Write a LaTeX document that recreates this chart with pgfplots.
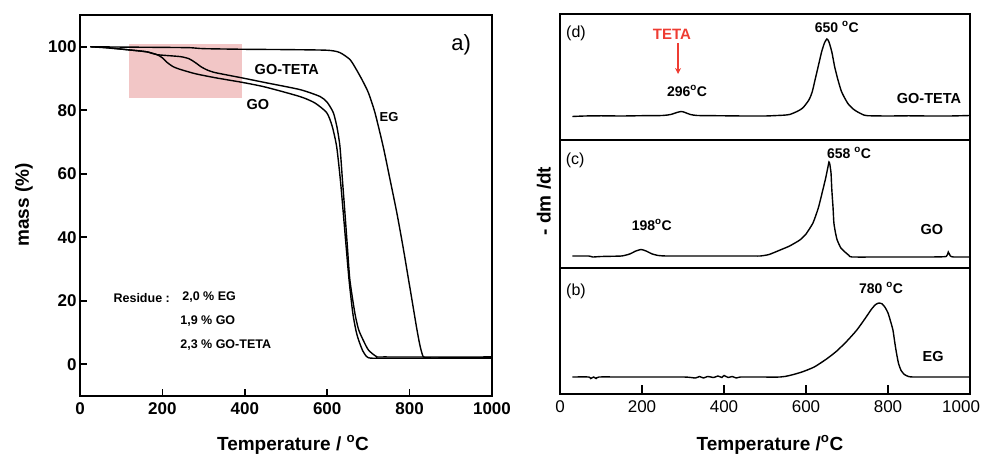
\documentclass[border=0pt]{standalone}
\usepackage{fontspec}
\setmainfont{Liberation Sans}
\usepackage{pgfplots}
\pgfplotsset{compat=1.18}
\usetikzlibrary{arrows.meta}
\definecolor{pinkbox}{RGB}{242,198,198}
\definecolor{tetared}{RGB}{238,60,50}
\newcommand{\fs}[1]{\fontsize{#1bp}{#1bp}\selectfont}
\newcommand{\dg}{\textsuperscript{o}}
\begin{document}
\begin{tikzpicture}
\path[use as bounding box] (0,0) rectangle (985bp,457bp);
% ---------------- left panel: TGA ----------------
\begin{axis}[at={(80bp,61bp)}, anchor=south west, scale only axis,
  width=412bp, height=381bp,
  xmin=0, xmax=1000, ymin=-10, ymax=110,
  xtick={0,200,...,1000}, ytick={0,20,...,100},
  tick pos=left, tick align=inside, major tick length=7bp,
  axis line style={line width=1.8bp},
  every tick/.style={line width=1.6bp, black},
  ticklabel style={font=\fs{17}\bfseries},
  /pgf/number format/assume math mode=true,
  /pgf/number format/1000 sep={},
  xticklabel style={yshift=-3bp},
  clip=false]
\addplot[fill=pinkbox, draw=none] coordinates {(120,84) (393,84) (393,101) (120,101)} -- cycle;
% EG
\addplot[black, line width=1.4bp, smooth, tension=0.4] coordinates {
(25,100)(100,99.9)(200,99.8)(267,99.7)(300,99.4)(400,99.2)(500,99.1)(600,98.9)
(630,98.2)(655,96)(670,93)(685,89.5)(700,85.5)(716,79.2)(736,68.5)(752,58.5)
(769,47.7)(784,37)(797,27)(808,18.5)(817,11.5)(825,6)(833,2.4)(845,2.0)(900,2.0)(1000,2.0)};
% GO
\addplot[black, line width=1.4bp, smooth, tension=0.4] coordinates {
(25,100)(60,99.7)(120,99)(162,98.4)(187,97.5)(200,96.5)(212,95)(225,93.8)(240,93)
(280,91.5)(330,90.2)(393,88.8)(450,87.3)(534,84.3)(570,82.3)(599,79.2)(612,75)
(623,68.5)(632,58)(639,47.7)(646,37)(653,26.6)(662,16.2)(670,10.5)(676,7.7)
(686,4.3)(696,2.4)(710,1.9)(800,1.9)(1000,1.9)};
% GO-TETA
\addplot[black, line width=1.4bp, smooth, tension=0.4] coordinates {
(25,100)(60,99.8)(120,99)(162,98.4)(187,97.5)(243,96.9)(265,96.2)(280,95)
(295,93.6)(310,92.6)(330,91.8)(393,90.2)(450,88.7)(534,86.5)(583,84.3)(600,82.5)
(615,79.2)(624,74.5)(631,68.5)(637,58)(643,47.7)(649,37)(655,26.6)(667,16.2)
(676,11)(687,7.7)(700,4.5)(720,2.4)(740,2.3)(1000,2.3)};
\node[font=\fs{22}] at (axis cs:925,100.6) {a)};
\node[font=\fs{14.5}\bfseries] at (axis cs:502,92.8) {GO-TETA};
\node[font=\fs{14.5}\bfseries] at (axis cs:432,81.7) {GO};
\node[font=\fs{13}\bfseries] at (axis cs:750,78) {EG};
\node[font=\fs{12.5}\bfseries, anchor=west] at (axis cs:73,21) {Residue :};
\node[font=\fs{12.5}\bfseries, anchor=west] at (axis cs:240,21) {2,0 \% EG};
\node[font=\fs{12.5}\bfseries, anchor=west] at (axis cs:235,13.7) {1,9 \% GO};
\node[font=\fs{12.5}\bfseries, anchor=west] at (axis cs:235,6.1) {2,3 \% GO-TETA};
\end{axis}
\node[rotate=90, font=\fs{19}\bfseries] at (24bp,252bp) {mass (\%)};
\node[font=\fs{19}\bfseries, anchor=base] at (293bp,7bp) {Temperature / \dg C};
% ---------------- right panels: DTG ----------------
\pgfplotsset{dtg/.style={anchor=south west, scale only axis, width=410bp,
  xmin=0, xmax=1000, ytick=\empty,
  axis line style={line width=1.8bp}, clip=false}}
% (d) GO-TETA
\begin{axis}[dtg, at={(560bp,317bp)}, height=126bp, ymin=0, ymax=126, xtick=\empty]
\addplot[black, line width=1.4bp, smooth, tension=0.4] coordinates {
(30,23.5)(60,24)(100,24.2)(150,24)(200,24.3)(250,24.5)(270,25.5)(285,27.5)(296,28.5)
(305,27.5)(318,25.5)(335,24.5)(380,24.3)(450,24)(500,24)(530,24.5)(545,24.8)
(560,25.5)(578,28.5)(592,32)(607,40)(615,48)(622,60)(630,74)(638,88)(645,97)
(651,101)(656,98)(663,88)(670,73)(678,60)(686,49)(693,43)(703,36)(715,31)
(724,28.5)(738,25.5)(750,24.3)(800,24)(850,24.2)(900,24)(950,24)(1000,24.5)};
\addplot[tetared, line width=1.2bp, -{Stealth[length=6bp,width=6bp]}] coordinates {(288,97)(288,66)};
\node[font=\fs{16}] at (axis cs:39,107) {(d)};
\node[font=\fs{15}\bfseries, text=tetared] at (axis cs:273,106) {TETA};
\node[font=\fs{14}\bfseries] at (axis cs:310,49) {296\dg C};
\node[font=\fs{14}\bfseries] at (axis cs:675,113) {650 \dg C};
\node[font=\fs{14.5}\bfseries] at (axis cs:900,41) {GO-TETA};
\end{axis}
% (c) GO
\begin{axis}[dtg, at={(560bp,189bp)}, height=128bp, ymin=0, ymax=128, xtick=\empty]
\addplot[black, line width=1.4bp, smooth, tension=0.3] coordinates {
(30,12)(70,12)(80,11)(100,11.5)(150,12)(170,14)(185,17)(198,18.5)(210,17)(225,14)
(240,12.5)(260,12)(350,12)(450,12)(488,12)(510,13.5)(537,18)(560,22)(585,28)
(600,34)(617,45)(630,60)(641,78)(648,90)(653,100)(656,106)(658,104)(661,95)
(663,78)(666,60)(668,45)(672,35)(676,28)(685,20)(695,16)(705,12.5)(712,11)
(800,11)(900,11)(942,11.5)(947,16)(952,12)(960,11)(1000,11)};
\node[font=\fs{16}] at (axis cs:37,108) {(c)};
\node[font=\fs{14}\bfseries] at (axis cs:705,115) {658 \dg C};
\node[font=\fs{14}\bfseries] at (axis cs:224,43) {198\dg C};
\node[font=\fs{14.5}\bfseries] at (axis cs:907,38) {GO};
\end{axis}
% (b) EG
\begin{axis}[dtg, at={(560bp,63bp)}, height=126bp, ymin=0, ymax=126,
  xtick={0,200,...,1000},
  xticklabels={0,200,400,600,800,{\makebox[20bp][r]{1000}}},
  tick pos=left, tick align=inside, major tick length=9bp,
  every tick/.style={line width=1.6bp, black},
  ticklabel style={font=\fs{17}},
  xticklabel style={yshift=-3bp}]
\addplot[black, line width=1.4bp, smooth, tension=0.4] coordinates {
(30,17)(70,17)(75,15.5)(82,17)(88,15.5)(95,17)(150,17)(300,17)(330,16)(340,17.5)
(350,16)(360,17.5)(375,16.5)(385,18)(395,16.5)(400,18.5)(410,16.5)(420,17.5)
(430,16)(440,17)(480,17)(537,17)(560,18.5)(590,22)(620,27)(650,35)(675,43)
(700,53)(724,64)(745,76)(760,85)(770,89.5)(778,91)(786,90)(793,86.5)(800,81)
(806,73)(812,64)(816,53)(819,45)(822,38)(826,30)(832,23.5)(840,19.5)(850,17.5)
(861,17)(900,17)(1000,17)};
\node[font=\fs{16}] at (axis cs:39,103) {(b)};
\node[font=\fs{14}\bfseries] at (axis cs:783,106) {780 \dg C};
\node[font=\fs{14.5}\bfseries] at (axis cs:910,37) {EG};
\end{axis}
\node[rotate=90, font=\fs{19}\bfseries] at (544bp,256bp) {- dm /dt};
\node[font=\fs{19}\bfseries, anchor=base] at (770bp,7bp) {Temperature /\dg C};
\end{tikzpicture}
\end{document}
